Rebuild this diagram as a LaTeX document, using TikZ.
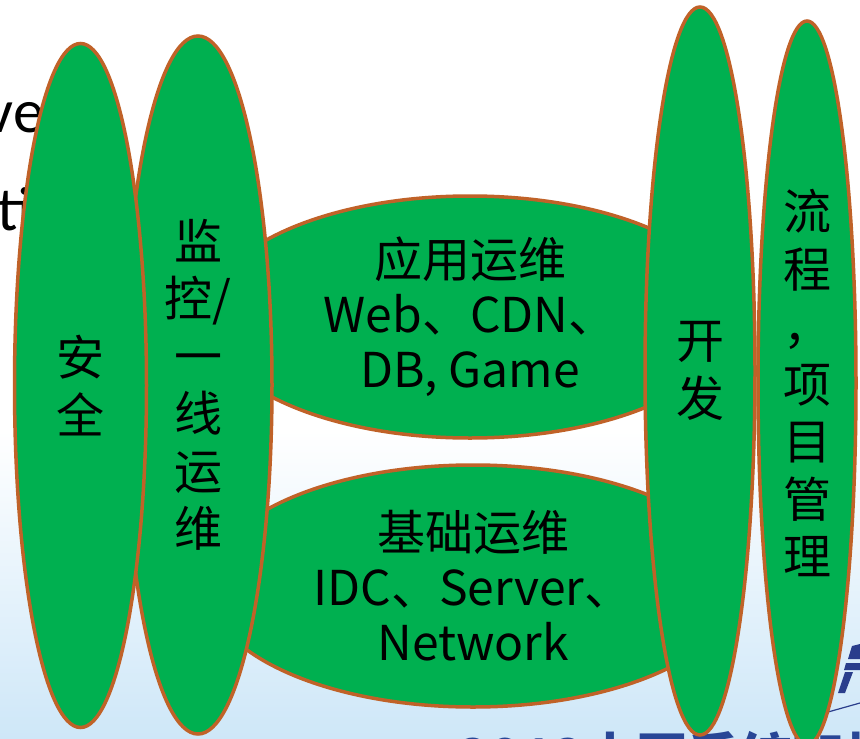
\documentclass[tikz,border=0pt]{standalone}
\usepackage{fontspec}
\setmainfont{Noto Sans CJK SC}
\newfontfamily\bgfont{Carlito}
\usetikzlibrary{shapes.geometric}
\definecolor{pgreen}{RGB}{0,176,80}
\definecolor{pedge}{RGB}{192,98,40}
\definecolor{bgblue}{RGB}{206,231,248}
\definecolor{logoblue}{RGB}{42,62,140}
\definecolor{titleblue}{RGB}{40,70,150}
\begin{document}
\begin{tikzpicture}[x=1pt,y=-1pt,
  blob/.style={ellipse, draw=pedge, fill=pgreen, line width=3.5pt, inner sep=0pt, align=center},
  vtext/.style={font=\fontsize{48}{57.5}\selectfont},
  htext/.style={font=\fontsize{48}{55}\selectfont},
  bgtext/.style={font=\bgfont\fontsize{62}{62}\selectfont, text=black, inner sep=0pt}
]
% background
\useasboundingbox (0,0) rectangle (860,739);
\fill[white] (0,0) rectangle (860,739);
\shade[top color=white, bottom color=bgblue] (0,430) rectangle (860,739);
% background slide remnants
\node[bgtext, anchor=base east] (bgve) at (44,132) {ve};
\node[bgtext, anchor=base west] (bgti) at (-3,230) {tic};
\node[font=\bfseries\fontsize{52}{52}\selectfont, text=titleblue, anchor=base west, inner sep=0pt] (bgtitle) at (458,776) {2012中国系统架构师大会};
\fill[logoblue] (852,646) -- (860,644) -- (860,659) -- (848,659) -- cycle;
\fill[logoblue] (846,663) -- (860,663) -- (860,670) -- (844,670) -- cycle;
\fill[logoblue] (845,672) -- (853,672) -- (845,693) -- (838,693) -- cycle;
\draw[logoblue, line width=1.2pt] (828,712) -- (860,703);
% horizontal ellipses
\node[blob, htext, minimum width=528, minimum height=242] (app) at (470,317) {应用运维\\Web、CDN、\\DB, Game};
\node[blob, htext, minimum width=532, minimum height=242] (base) at (473,586) {基础运维\\IDC、Server、\\Network};
% vertical ellipses
\node[blob, vtext, minimum width=148, minimum height=698] (mon) at (198,385) {监\\控/\\一\\线\\运\\维};
\node[blob, vtext, minimum width=132, minimum height=684] (sec) at (80.5,385.5) {安\\全};
\node[blob, vtext, minimum width=110, minimum height=728] (dev) at (700,371) {开\\发};
\node[blob, vtext, minimum width=98, minimum height=724] (proc) at (807,383) {流\\程\\，\\项\\目\\管\\理};
\end{tikzpicture}
\end{document}
